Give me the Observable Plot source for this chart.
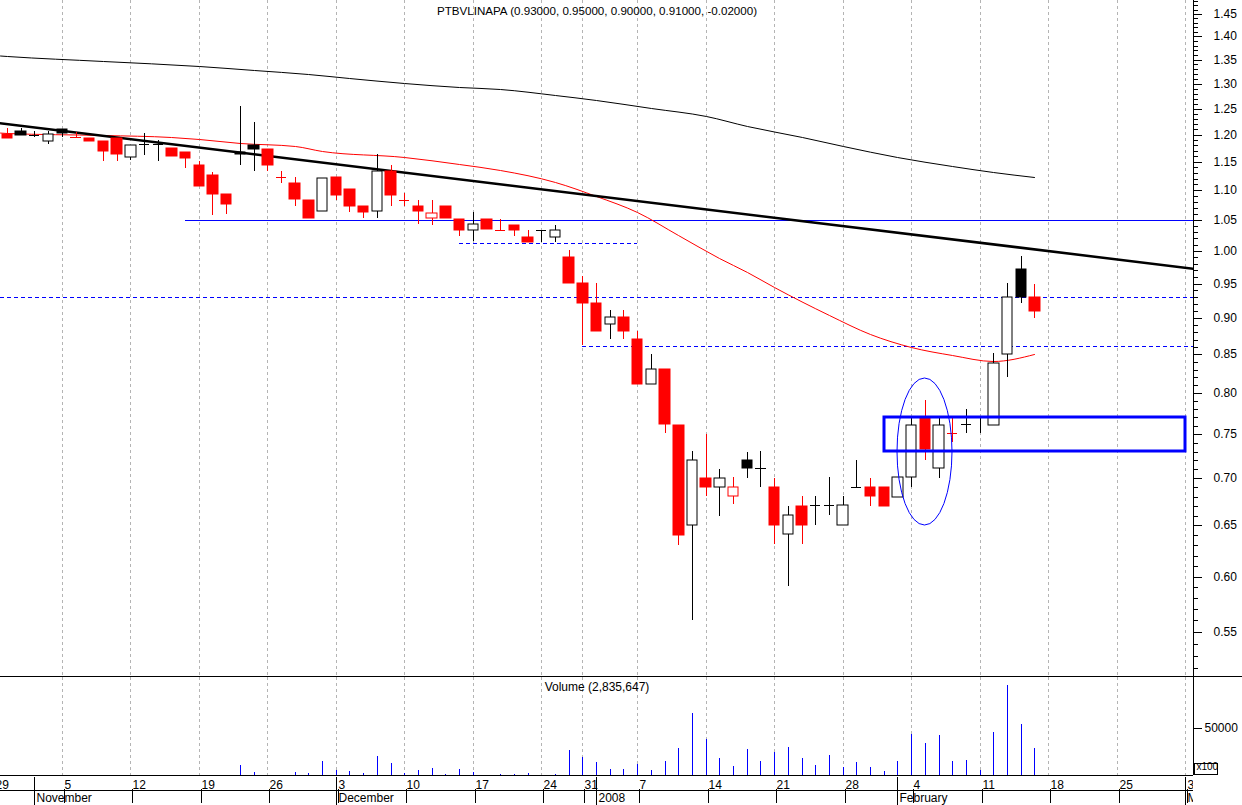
<!DOCTYPE html>
<html><head><meta charset="utf-8">
<script src="https://cdn.jsdelivr.net/npm/d3@7"></script>
<script src="https://cdn.jsdelivr.net/npm/@observablehq/plot@0.6"></script>
<style>
html,body{margin:0;padding:0;background:#fff;}
#chart{position:relative;width:1242px;height:805px;overflow:hidden;background:#fff;}
#chart > *{position:absolute;left:0;}
</style></head><body><div id="chart"></div>
<script>
const title = "PTBVLINAPA (0.93000, 0.95000, 0.90000, 0.91000, -0.02000)";
const volumeLabel = "Volume (2,835,647)";
const volumeUnit = "x100";

const dates = ["2007-10-30","2007-10-31","2007-11-01","2007-11-02","2007-11-05","2007-11-06","2007-11-07","2007-11-08","2007-11-09","2007-11-12",
"2007-11-13","2007-11-14","2007-11-15","2007-11-16","2007-11-19","2007-11-20","2007-11-21","2007-11-22","2007-11-23","2007-11-26",
"2007-11-27","2007-11-28","2007-11-29","2007-11-30","2007-12-03","2007-12-04","2007-12-05","2007-12-06","2007-12-07","2007-12-10",
"2007-12-11","2007-12-12","2007-12-13","2007-12-14","2007-12-17","2007-12-18","2007-12-19","2007-12-20","2007-12-21","2007-12-24",
"2007-12-27","2007-12-28","2007-12-31","2008-01-02","2008-01-03","2008-01-04","2008-01-07","2008-01-08","2008-01-09","2008-01-10",
"2008-01-11","2008-01-14","2008-01-15","2008-01-16","2008-01-17","2008-01-18","2008-01-21","2008-01-22","2008-01-23","2008-01-24",
"2008-01-25","2008-01-28","2008-01-29","2008-01-30","2008-01-31","2008-02-01","2008-02-04","2008-02-05","2008-02-06","2008-02-07",
"2008-02-08","2008-02-11","2008-02-12","2008-02-13","2008-02-14","2008-02-15"];

const opens = [1.201,1.206,1.200,1.188,1.211,1.195,1.194,1.188,1.194,1.158,
1.182,1.182,1.175,1.168,1.144,1.126,1.093,1.168,1.181,1.173,
1.123,1.112,1.083,1.065,1.123,1.102,1.073,1.065,1.134,1.083,
1.073,1.053,1.073,1.052,1.033,1.052,1.034,1.041,1.022,1.034,
1.022,0.991,0.951,0.922,0.891,0.901,0.871,0.811,0.831,0.761,
0.650,0.700,0.690,0.681,0.720,0.711,0.690,0.641,0.670,0.671,
0.671,0.650,0.691,0.690,0.690,0.680,0.701,0.770,0.711,0.751,
0.762,0.771,0.761,0.851,0.972,0.930];
const highs = [1.212,1.212,1.207,1.207,1.211,1.205,1.194,1.188,1.194,1.180,
1.203,1.190,1.175,1.168,1.151,1.132,1.093,1.255,1.224,1.173,
1.134,1.123,1.083,1.122,1.123,1.102,1.073,1.164,1.144,1.095,
1.083,1.083,1.073,1.052,1.063,1.052,1.052,1.041,1.033,1.034,
1.041,1.001,0.961,0.951,0.911,0.911,0.882,0.850,0.831,0.761,
0.731,0.750,0.710,0.701,0.730,0.731,0.700,0.670,0.681,0.681,
0.701,0.681,0.720,0.700,0.690,0.701,0.770,0.791,0.770,0.770,
0.780,0.771,0.852,0.951,0.992,0.950];
const lows = [1.194,1.200,1.195,1.182,1.195,1.195,1.189,1.151,1.151,1.153,
1.162,1.151,1.160,1.139,1.108,1.058,1.060,1.145,1.134,1.134,
1.113,1.073,1.053,1.065,1.083,1.063,1.053,1.053,1.073,1.073,
1.043,1.041,1.053,1.023,1.015,1.035,1.034,1.023,1.014,1.014,
1.014,0.951,0.863,0.882,0.871,0.871,0.811,0.811,0.751,0.630,
0.560,0.681,0.660,0.672,0.700,0.691,0.631,0.591,0.631,0.651,
0.661,0.650,0.691,0.670,0.670,0.680,0.691,0.720,0.700,0.741,
0.751,0.751,0.761,0.821,0.922,0.900];
const closes = [1.194,1.200,1.200,1.201,1.204,1.195,1.189,1.170,1.165,1.180,
1.182,1.182,1.160,1.157,1.108,1.094,1.077,1.164,1.174,1.145,
1.123,1.084,1.053,1.122,1.092,1.073,1.063,1.134,1.092,1.083,
1.065,1.062,1.053,1.034,1.043,1.035,1.034,1.033,1.014,1.034,
1.034,0.951,0.922,0.882,0.902,0.882,0.811,0.831,0.762,0.640,
0.720,0.691,0.700,0.690,0.711,0.711,0.651,0.661,0.651,0.671,
0.671,0.671,0.691,0.681,0.670,0.701,0.761,0.733,0.761,0.751,
0.762,0.771,0.839,0.930,0.930,0.910];
// volume in hundreds of shares
const volumes = [0,0,0,0,0,0,0,0,0,0,
0,0,0,0,0,0,0,10640,3190,0,
0,3190,2130,14900,5320,4260,2130,20200,12770,2130,
5320,7450,1060,6380,3190,0,1060,1060,2130,0,
1060,26600,19150,13830,6380,6380,11700,5320,14900,28730,
65970,38300,18090,9580,27660,14900,24470,29790,18090,10640,
21280,8510,13830,8510,4260,14900,43620,34050,42560,14900,
15960,5320,45750,95760,54260,28356];

// moving averages (read at selected sessions)
const maLongIdx = [-1,0,7,14,18,22,25,29,33,36,40,43,47,51,54,58,61,65,69,72,75];
const maLongVal = [1.359,1.357,1.346,1.336,1.329,1.319,1.312,1.301,1.294,1.289,1.278,1.267,1.252,1.236,1.217,1.195,1.179,1.158,1.142,1.132,1.123];
const maShortIdx = [-1,0,7,12,14,17,21,23,29,33,36,40,43,46,49,52,54,56,60,63,66,69,72,75];
const maShortVal = [1.205,1.204,1.200,1.196,1.191,1.184,1.178,1.170,1.158,1.146,1.135,1.114,1.090,1.063,1.025,0.989,0.968,0.945,0.904,0.878,0.860,0.849,0.842,0.851];

// drawn annotations
const trendIdx = [-1, 87];
const trendVal = [1.2243, 0.9723];
const solidLevelVal = [1.05];
const solidLevelFrom = [13];
const solidLevelTo = [87];
const dashedLevelVal = [1.013, 0.93, 0.862];
const dashedLevelFrom = [33, -1, 42];
const dashedLevelTo = [46, 87, 87];
const boxIdx = [64, 86];
const boxVal = [0.731, 0.771];
const ellipseIdx = [65, 69];
const ellipseVal = [0.651, 0.819];

// axes
const weekTickIdx = [-1,4,9,14,19,24,29,34,39,42,46,51,56,61,66,71,76,81,86];
const weekTickLabels = ["29","5","12","19","26","3","10","17","24","31","7","14","21","28","4","11","18","25","3"];
const monthIdx = [2,24,43,65,86];
const monthLabels = ["November","December","2008","February","March"];
const priceTicks = [0.55,0.60,0.65,0.70,0.75,0.80,0.85,0.90,0.95,1.00,1.05,1.10,1.15,1.20,1.25,1.30,1.35,1.40,1.45];
const priceMinorTicks = d3.range(52, 149).map(d => d / 100);
const volumeTicks = [50000];

// ---------- build ----------
const RED = "#ff0000", BLACK = "#000000", BLUE = "#0000ff", GRID = "#b4b4b4";
const FONT = {fontFamily: "'Liberation Sans', Arial, sans-serif", fontSize: "12px", background: "transparent", color: "black", overflow: "hidden"};
const xDomain = [-0.511, 86.57];
const yDomain = [0.5133, 1.4823];
const volDomain = [0, 104255];

const candles = dates.map((date, i) => ({
  i, date, open: opens[i], high: highs[i], low: lows[i], close: closes[i],
  prev: i ? closes[i - 1] : opens[i]
}));
const colorOf = d => d.close < d.prev ? RED : BLACK;
const fillOf = d => d.close < d.open ? colorOf(d) : "white";
const bodies = candles.filter(d => d.open !== d.close);
const dojis = candles.filter(d => d.open === d.close);
const pts = (idx, val) => idx.map((i, k) => ({i, v: val[k]}));
const gridIdx = weekTickIdx.filter(i => i >= xDomain[0] && i <= xDomain[1]);
const weekLabel = new Map(weekTickIdx.map((d, k) => [d, weekTickLabels[k]]));
const monthLabel = new Map(monthIdx.map((d, k) => [d, monthLabels[k]]));
const levels = (vals, from, to) => vals.map((v, k) => ({v, from: from[k], to: to[k]}));
const svgNS = "http://www.w3.org/2000/svg";

const ellipseMark = (index, {x, y}) => {
  const e = document.createElementNS(svgNS, "ellipse");
  const x1 = x(ellipseIdx[0]), x2 = x(ellipseIdx[1]);
  const y1 = y(ellipseVal[0]), y2 = y(ellipseVal[1]);
  e.setAttribute("cx", (x1 + x2) / 2);
  e.setAttribute("cy", (y1 + y2) / 2);
  e.setAttribute("rx", Math.abs(x2 - x1) / 2);
  e.setAttribute("ry", Math.abs(y1 - y2) / 2);
  e.setAttribute("fill", "none");
  e.setAttribute("stroke", BLUE);
  e.setAttribute("stroke-width", 1);
  return e;
};

const main = Plot.plot({
  width: 1242, height: 676,
  marginLeft: 0, marginRight: 49, marginTop: 0, marginBottom: 0,
  style: FONT,
  x: {type: "linear", domain: xDomain, round: true, axis: null},
  y: {type: "log", domain: yDomain, round: true},
  marks: [
    Plot.ruleX(gridIdx, {x: d => d, stroke: GRID, strokeDasharray: "3,3"}),
    Plot.ruleY(levels(solidLevelVal, solidLevelFrom, solidLevelTo), {y: "v", x1: "from", x2: "to", stroke: BLUE, clip: true}),
    Plot.ruleY(levels(dashedLevelVal, dashedLevelFrom, dashedLevelTo), {y: "v", x1: "from", x2: "to", stroke: BLUE, strokeDasharray: "4,3", clip: true}),
    Plot.line(pts(maLongIdx, maLongVal), {x: "i", y: "v", stroke: BLACK, strokeWidth: 1, curve: "monotone-x", clip: true}),
    Plot.line(pts(maShortIdx, maShortVal), {x: "i", y: "v", stroke: RED, strokeWidth: 1, curve: "monotone-x", clip: true}),
    Plot.line(pts(trendIdx, trendVal), {x: "i", y: "v", stroke: BLACK, strokeWidth: 2.5, clip: true}),
    Plot.ruleX(candles, {x: "i", y1: "low", y2: "high", stroke: colorOf}),
    Plot.rect(bodies, {x1: d => d.i - 0.38, x2: d => d.i + 0.38, y1: "open", y2: "close", fill: fillOf, stroke: colorOf}),
    Plot.ruleY(dojis, {y: "close", x1: d => d.i - 0.37, x2: d => d.i + 0.37, stroke: colorOf}),
    Plot.rect([0], {x1: () => boxIdx[0], x2: () => boxIdx[1], y1: () => boxVal[0], y2: () => boxVal[1], fill: "none", stroke: BLUE, strokeWidth: 3}),
    ellipseMark,
    Plot.text([title], {frameAnchor: "top", dy: 6, fill: BLACK, fontSize: 11.6}),
    Plot.ruleX([xDomain[1]], {stroke: BLACK}),
    Plot.axisY({anchor: "right", ticks: priceMinorTicks, tickSize: 4, tickFormat: () => ""}),
    Plot.axisY({anchor: "right", ticks: priceTicks, tickSize: 8, tickPadding: 12, tickFormat: d3.format(".2f")})
  ]
});
main.style.top = "0px";

const sep = document.createElement("div");
sep.style.cssText = "top:676px;width:1242px;height:1px;background:#000;";

const unitBox = (index, scales, values, dims) => {
  const r = document.createElementNS(svgNS, "rect");
  const left = dims.width - dims.marginRight + 1.5;
  const bottom = dims.height - dims.marginBottom;
  r.setAttribute("x", left);
  r.setAttribute("y", bottom - 11.5);
  r.setAttribute("width", 23);
  r.setAttribute("height", 11);
  r.setAttribute("fill", "white");
  r.setAttribute("stroke", BLACK);
  return r;
};

const vol = Plot.plot({
  width: 1242, height: 99,
  marginLeft: 0, marginRight: 49, marginTop: 0, marginBottom: 1,
  style: FONT,
  x: {type: "linear", domain: xDomain, round: true, axis: null},
  y: {domain: volDomain, round: true},
  marks: [
    Plot.ruleX(gridIdx, {x: d => d, stroke: GRID, strokeDasharray: "3,3"}),
    Plot.ruleX(candles.filter(d => volumes[d.i] > 0), {x: "i", y1: 0, y2: d => volumes[d.i], stroke: BLUE}),
    Plot.ruleY([0], {stroke: BLACK}),
    Plot.ruleX([xDomain[1]], {stroke: BLACK}),
    Plot.text([volumeLabel], {frameAnchor: "top", dy: 5, fill: BLACK}),
    Plot.axisY({anchor: "right", ticks: volumeTicks, tickSize: 8, tickPadding: 3, tickFormat: d => String(d)}),
    unitBox,
    Plot.text([volumeUnit], {frameAnchor: "bottom-right", textAnchor: "start", dx: 3, dy: -6, fontSize: 10, fill: BLACK})
  ]
});
vol.style.top = "677px";

const dateAxis = Plot.plot({
  width: 1193, height: 29,
  marginLeft: 0, marginRight: 0, marginTop: 14, marginBottom: 0,
  style: FONT,
  x: {type: "linear", domain: xDomain, round: true},
  y: {domain: [0, 1], axis: null},
  marks: [
    Plot.axisX({anchor: "top", ticks: weekTickIdx, tickSize: 14, tickPadding: 0, textAnchor: "start", dx: 2, dy: 12, tickFormat: d => weekLabel.get(d)}),
    Plot.axisX({anchor: "top", ticks: monthIdx, tickSize: 14, tickFormat: () => ""}),
    Plot.ruleY([1], {stroke: BLACK}),
    Plot.ruleX(monthIdx, {x: d => d, stroke: BLACK}),
    Plot.text(monthIdx, {x: d => d, text: d => monthLabel.get(d), textAnchor: "start", dx: 2, fill: BLACK})
  ]
});
dateAxis.style.top = "776px";

const chart = document.getElementById("chart");
chart.append(main, sep, vol, dateAxis);
</script></body></html>
